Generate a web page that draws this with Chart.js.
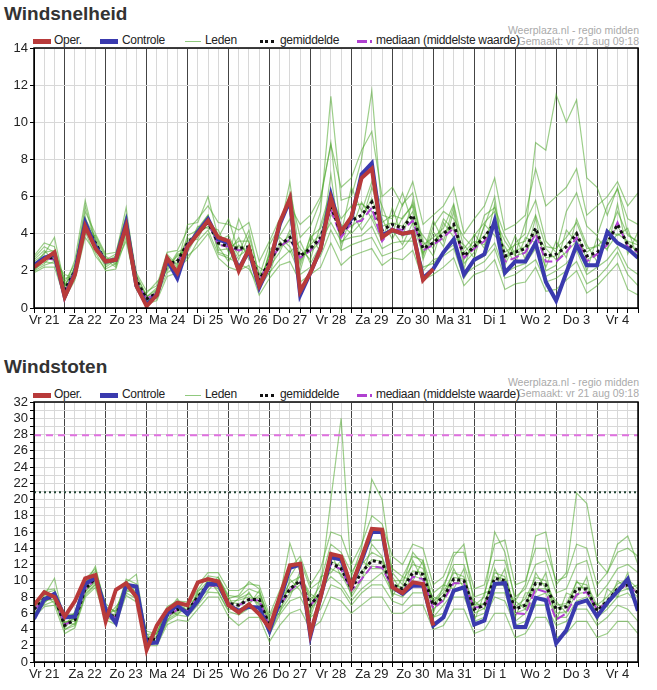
<!DOCTYPE html>
<html>
<head>
<meta charset="utf-8">
<script src="https://cdn.jsdelivr.net/npm/chart.js@4.4.1/dist/chart.umd.min.js"></script>
<style>
body { margin:0; background:#fff; font-family:"Liberation Sans", Arial, sans-serif; }
#wrap { position:relative; width:657px; height:690px; }
.title { position:absolute; left:4px; font-size:19px; font-weight:bold; color:#333; }
.credit { position:absolute; right:18px; font-size:10.5px; color:#aaa; text-align:right; line-height:11px; }
.legend { position:absolute; left:33px; font-size:12px; letter-spacing:-0.3px; color:#222; height:16px; }
.legend span { position:absolute; top:0; white-space:nowrap; }
.legend b { font-weight:normal; }
.sw { position:absolute; top:7px; }
canvas { position:absolute; left:0; }
</style>
</head>
<body>
<div id="wrap">
  <div class="title" style="top:3px">Windsnelheid</div>
  <div class="credit" style="top:25px">Weerplaza.nl - regio midden<br>Gemaakt: vr 21 aug 09:18</div>
  <div class="legend" id="legend1" style="top:33px"></div>
  <div style="position:absolute;top:36px;width:657px;height:294px"><canvas id="chart1"></canvas></div>

  <div class="title" style="top:356px">Windstoten</div>
  <div class="credit" style="top:377px">Weerplaza.nl - regio midden<br>Gemaakt: vr 21 aug 09:18</div>
  <div class="legend" id="legend2" style="top:387px"></div>
  <div style="position:absolute;top:390px;width:657px;height:294px"><canvas id="chart2"></canvas></div>
</div>
<script>
// hours since Vr 21 00:00, every 6 hours
const hours = [];
for (let h = 6; h <= 360; h += 6) hours.push(h);
const dayLabels = ['Vr 21','Za 22','Zo 23','Ma 24','Di 25','Wo 26','Do 27','Vr 28','Za 29','Zo 30','Ma 31','Di 1','Wo 2','Do 3','Vr 4'];

// ---- Windsnelheid ----
const speedOper = [2.2,2.6,3.0,0.6,1.8,4.4,3.2,2.5,2.6,4.4,1.2,0.1,0.7,2.7,1.9,3.3,4.0,4.7,3.8,3.6,2.0,3.2,1.2,2.3,4.6,5.9,0.9,1.9,3.2,5.9,4.1,4.9,7.0,7.5,3.8,4.2,4.0,4.1,1.5,2.1];
const speedControle = [2.3,2.7,2.9,0.6,1.9,4.6,3.3,2.5,2.6,4.6,1.2,0.2,0.7,2.6,1.6,3.3,4.1,4.8,3.7,3.5,2.1,3.1,1.1,2.3,4.5,5.8,0.7,1.9,3.2,6.1,4.1,4.8,7.2,7.8,3.9,4.2,4.0,4.1,1.6,2.1,3.0,3.7,1.8,2.6,2.9,4.7,1.9,2.5,2.5,3.5,1.4,0.4,1.9,3.4,2.3,2.3,4.1,3.5,3.2,2.7];
const speedMean = [2.3,2.7,2.7,1.0,2.0,4.5,3.5,2.5,2.6,4.4,1.5,0.5,0.8,2.4,2.5,3.5,4.0,4.6,3.5,3.3,3.2,3.3,1.5,2.5,3.4,3.8,2.8,3.2,3.8,5.5,4.0,4.7,5.0,5.7,4.2,4.5,4.3,5.0,3.2,3.5,4.0,4.5,2.8,3.3,3.8,4.6,2.8,3.0,3.2,4.3,2.8,2.9,3.3,4.0,2.8,3.0,3.5,4.5,3.4,3.1];
const speedMedian = [2.3,2.7,2.6,0.9,2.0,4.4,3.4,2.5,2.6,4.3,1.4,0.5,0.8,2.4,2.4,3.5,4.0,4.6,3.4,3.3,3.1,3.2,1.5,2.5,3.3,3.7,2.7,3.1,3.7,5.3,3.8,4.6,4.7,5.4,3.6,4.3,4.2,4.7,3.1,3.4,3.8,4.3,2.7,3.2,3.6,4.4,2.5,2.7,3.0,4.0,2.5,2.5,3.0,3.8,2.5,2.9,3.4,4.6,3.3,3.0];
const speedMembers = [
  [2.8,3.5,3.3,1.4,2.4,5.2,4.0,2.9,3.0,5.0,1.9,0.9,1.2,3.0,3.1,4.2,4.8,5.5,4.6,4.5,4.2,4.6,2.5,3.6,4.8,5.5,4.5,5.0,6.0,8.8,6.5,7.0,8.5,9.5,6.0,6.5,5.5,6.8,4.5,5.0,5.5,6.5,4.0,4.8,5.5,7.0,4.2,4.5,5.0,7.5,5.5,6.0,6.5,7.5,5.0,5.5,6.0,6.8,5.5,6.2],
  [1.9,2.2,2.2,0.5,1.5,3.8,3.0,2.0,2.1,3.8,1.0,0.2,0.4,1.7,1.9,2.8,3.3,4.0,2.7,2.2,2.0,2.3,0.7,1.6,2.3,2.5,1.4,1.8,2.2,3.5,2.3,2.8,3.0,3.2,2.3,2.7,2.6,3.1,1.5,1.8,2.2,2.7,1.2,1.8,2.0,2.6,1.0,1.3,1.4,2.2,0.9,1.0,1.5,2.0,0.8,1.2,1.8,2.4,1.0,0.7],
  [2.5,2.9,3.8,1.2,2.2,4.8,3.8,2.7,2.4,4.6,1.3,0.6,1.0,2.8,2.2,3.9,4.2,5.0,3.0,2.8,4.8,3.5,1.2,2.9,4.2,6.8,2.5,3.5,5.2,11.4,5.8,6.0,8.0,11.7,5.0,4.8,6.2,4.5,2.9,4.7,3.6,5.5,2.4,3.0,4.4,6.0,2.3,3.5,4.0,8.9,8.5,11.5,10.0,11.2,7.0,6.5,5.0,6.5,4.0,3.5],
  [2.1,2.4,2.9,0.8,1.9,4.2,3.3,2.3,2.7,4.1,1.6,0.3,0.7,2.2,2.8,3.2,4.4,4.3,3.9,3.6,2.6,3.9,1.8,2.2,3.0,4.2,3.2,2.6,4.5,6.3,3.5,4.2,5.7,4.8,3.6,5.4,3.8,5.8,3.6,2.8,4.6,3.8,3.4,2.7,4.5,3.9,3.3,2.4,3.8,3.5,2.2,3.6,2.7,4.8,3.4,2.5,4.2,3.9,4.3,2.6],
  [2.6,3.1,2.5,1.1,2.6,5.8,3.6,2.4,2.5,4.9,1.7,0.7,0.5,2.5,2.4,3.6,3.7,4.9,3.3,2.5,3.4,2.9,1.0,3.1,3.8,3.3,2.0,3.9,3.0,5.0,4.5,4.0,4.6,6.5,4.8,3.7,4.9,5.5,2.6,4.1,3.3,5.2,2.1,4.0,3.2,5.6,2.5,3.9,2.6,4.9,2.0,2.3,4.2,3.5,2.0,3.8,3.1,5.6,2.9,4.1],
  [2.0,2.6,2.8,1.6,1.7,4.4,3.4,2.6,2.2,4.3,1.2,0.8,1.4,2.0,2.9,3.0,4.0,4.4,4.2,3.0,3.8,2.6,2.2,1.8,3.6,3.0,3.6,2.4,3.4,7.2,3.2,5.2,4.2,5.0,3.8,4.2,3.4,4.6,3.9,3.2,4.8,4.2,3.0,3.6,3.4,4.8,3.6,2.8,3.0,4.0,3.2,2.6,3.0,3.6,3.0,3.4,3.2,4.0,3.6,3.4],
  [2.4,2.8,2.6,0.9,2.1,4.6,3.7,2.5,2.8,4.5,1.4,0.4,0.9,2.6,2.0,3.4,4.1,4.7,3.6,3.9,2.8,3.2,1.4,2.7,3.2,4.0,2.6,3.4,4.0,5.5,4.2,4.4,4.8,5.9,4.4,4.6,4.4,5.2,3.0,3.6,4.1,4.4,2.6,3.4,3.9,4.5,2.7,3.1,3.3,4.2,2.7,2.8,3.4,4.1,2.6,2.9,3.6,4.4,3.5,3.0],
  [2.3,2.5,2.4,0.7,2.3,4.9,3.2,2.2,2.6,4.2,1.5,0.5,0.6,2.3,2.6,3.7,3.9,4.6,3.4,3.4,3.3,3.1,1.6,2.4,3.3,3.6,2.9,3.0,3.6,4.6,3.6,3.8,3.9,4.4,3.2,3.5,3.6,3.6,2.2,2.4,3.0,3.4,1.8,2.2,2.5,3.2,1.6,1.8,2.2,2.6,1.4,1.6,2.0,2.5,1.3,1.6,2.2,3.0,1.8,1.2],
  [2.2,3.0,3.1,1.3,1.8,4.0,3.9,2.8,2.3,4.0,1.8,0.6,1.1,2.1,3.0,3.3,4.3,5.0,3.1,3.2,3.6,3.6,1.3,2.9,3.9,4.8,2.3,3.8,4.3,6.0,4.8,5.5,5.6,5.2,4.6,5.0,4.8,5.6,3.4,3.8,4.3,5.6,3.2,3.9,4.6,5.2,3.0,3.4,3.6,5.0,3.3,3.2,3.8,4.6,3.2,3.3,3.9,5.2,3.9,3.6],
  [2.7,3.3,3.0,1.0,2.0,5.5,3.5,2.6,2.9,5.4,1.5,0.3,1.0,2.9,2.3,4.5,4.6,6.0,3.8,4.8,3.0,4.2,1.7,3.4,4.4,6.2,3.8,4.4,5.8,8.9,4.0,6.5,5.2,6.8,5.5,4.0,5.6,6.2,2.8,4.4,5.2,4.8,3.8,3.2,5.0,5.4,3.9,2.9,4.6,5.8,3.6,3.0,5.2,6.2,4.4,3.9,5.5,6.4,4.8,4.5],
  [2.0,2.3,2.5,1.8,1.6,4.1,2.8,2.1,2.4,3.6,1.1,0.4,0.6,1.9,2.2,2.6,3.6,4.2,2.9,2.7,2.4,2.1,1.1,1.9,2.6,3.1,1.8,2.2,2.8,4.2,3.1,3.4,3.6,3.8,2.8,3.0,3.2,3.9,2.0,2.6,2.8,3.2,1.6,2.5,2.8,3.5,1.9,2.2,2.4,3.2,1.7,2.0,2.4,3.1,1.8,2.2,2.6,3.3,2.2,1.8]
];

// ---- Windstoten ----
const gustOper = [7.0,8.6,8.0,5.6,7.5,10.3,10.7,5.0,8.9,9.7,8.0,1.5,4.5,6.4,7.3,7.0,9.8,10.2,9.9,7.0,6.1,7.1,5.9,4.2,8.0,11.9,12.1,3.5,8.0,13.3,13.0,9.3,12.8,16.4,16.3,9.2,8.5,9.8,9.6,4.5];
const gustControle = [5.3,7.7,8.4,5.5,5.6,9.6,10.4,6.5,4.8,9.5,9.3,2.3,2.4,5.9,7.0,5.9,7.5,9.6,9.6,7.0,6.3,6.8,6.7,3.8,7.5,11.6,12.0,3.2,8.0,12.9,12.6,9.3,12.5,16.0,16.0,9.2,8.4,9.4,9.4,4.5,5.5,8.8,9.2,4.6,5.1,9.6,9.7,4.3,4.3,7.9,7.6,2.3,3.9,7.2,7.6,5.6,7.3,8.7,10.2,6.3];
const gustMean = [6.5,7.8,8.0,4.5,5.2,9.0,10.3,6.0,5.5,9.2,8.5,2.8,2.8,5.8,6.5,6.3,8.0,9.5,9.5,7.2,7.0,7.7,7.7,4.5,7.0,9.0,10.0,7.0,8.5,12.2,11.5,9.0,11.0,12.5,12.2,9.5,9.0,11.0,10.8,7.0,8.0,10.2,10.0,6.5,7.0,10.3,10.0,6.5,7.0,9.7,9.5,6.5,6.8,9.0,9.0,6.3,7.5,9.0,9.5,8.5];
const gustMedian = [6.4,7.7,7.9,4.6,5.2,9.0,10.2,6.0,5.5,9.1,8.4,2.8,2.9,5.7,6.4,6.3,7.9,9.4,9.4,7.2,7.0,7.6,7.6,4.4,6.9,8.8,9.8,7.0,8.4,12.0,11.4,8.8,10.2,11.8,11.6,9.2,8.6,10.5,10.2,6.6,7.6,9.7,9.7,6.7,6.8,9.6,9.6,6.0,5.9,9.0,8.6,5.2,6.0,8.3,8.6,6.5,7.3,8.8,9.6,8.3];
const gustMembers = [
  [7.2,8.8,9.0,5.3,6.0,10.2,11.5,6.8,6.2,10.2,9.6,3.4,3.5,6.8,7.5,7.4,9.5,11.0,11.0,8.8,8.8,9.6,9.4,5.8,8.8,11.5,13.0,9.5,11.5,16.0,15.5,12.0,14.5,18.0,17.0,13.0,12.0,14.5,14.0,9.5,10.5,13.5,13.5,9.0,9.5,14.5,15.0,9.5,10.0,14.0,14.0,10.0,10.5,14.5,14.0,9.5,11.0,13.5,14.0,13.0],
  [5.5,6.8,7.0,3.5,4.2,8.0,9.2,5.2,4.6,8.2,7.4,2.0,2.0,4.6,5.2,5.0,6.5,8.0,8.0,5.6,4.5,5.5,5.5,2.5,4.5,6.0,6.5,4.0,5.0,8.0,7.5,6.0,7.0,8.0,8.0,6.0,6.0,7.0,7.0,4.0,4.5,6.5,6.5,3.5,4.0,6.0,6.0,3.0,3.5,5.5,5.5,3.0,3.5,5.0,5.0,3.0,3.5,5.0,5.0,3.5],
  [6.8,8.2,10.3,4.8,5.5,9.5,11.8,6.4,5.2,9.8,10.8,3.0,3.2,6.2,7.8,6.0,8.8,9.2,10.5,7.8,8.2,9.9,9.0,4.0,8.0,14.6,11.0,7.5,9.5,20.0,30.0,10.5,14.0,22.5,20.0,11.0,9.5,13.5,12.0,7.5,9.0,13.0,14.5,7.0,8.0,16.0,13.5,7.5,9.5,15.5,16.0,9.5,11.0,20.8,19.5,12.5,11.0,14.5,15.5,12.0],
  [6.2,7.5,7.8,4.2,5.6,8.6,10.0,5.6,5.9,8.9,8.2,2.5,2.6,5.5,6.2,6.7,7.6,9.8,9.0,7.0,6.4,7.3,8.2,4.9,6.5,8.5,9.5,6.5,8.0,11.5,10.8,8.4,10.2,11.8,11.6,8.8,8.5,10.6,10.2,6.5,7.6,9.8,9.6,6.0,6.6,9.6,9.4,6.0,6.5,9.0,9.0,6.0,6.2,8.4,8.6,5.8,7.0,8.6,9.0,8.0],
  [6.6,8.0,8.3,4.0,4.8,9.3,10.6,6.2,5.7,9.0,8.8,3.2,2.4,6.0,6.8,6.0,8.4,9.2,9.8,7.5,7.6,8.0,7.2,4.2,7.5,9.8,10.5,8.0,7.6,13.0,12.5,9.5,12.0,13.5,12.8,10.0,10.0,12.0,11.5,7.4,8.6,11.0,10.5,7.0,7.2,11.0,10.5,6.8,7.8,10.4,10.0,7.0,7.2,9.8,9.5,7.0,8.0,9.6,10.2,9.0],
  [6.0,7.2,8.6,5.0,5.0,8.8,9.8,5.8,6.4,9.6,8.0,2.6,3.0,5.2,6.0,6.5,7.2,10.2,8.6,6.4,6.8,8.6,6.6,3.6,6.2,8.0,11.2,5.6,9.0,10.5,9.5,7.5,9.0,10.0,11.0,8.5,8.0,9.5,9.5,5.5,7.0,8.6,9.0,5.5,6.0,8.5,8.5,5.0,6.0,8.0,8.5,5.5,5.5,7.5,8.0,5.5,6.5,8.0,8.5,7.0],
  [6.4,7.9,7.6,4.6,5.4,9.1,10.4,6.1,5.4,9.3,8.6,2.9,2.9,5.9,6.4,6.4,8.1,9.6,9.4,7.3,7.2,7.6,7.9,4.6,7.2,9.2,9.8,7.2,8.6,12.4,11.8,9.2,11.2,12.6,12.4,9.6,9.2,11.2,11.0,7.2,8.2,10.4,10.2,6.6,7.2,10.5,10.2,6.6,7.2,9.8,9.6,6.6,7.0,9.2,9.2,6.4,7.6,9.2,9.6,8.6],
  [5.8,7.4,8.2,4.4,6.2,9.9,10.8,5.4,6.8,8.6,9.2,2.2,3.6,6.6,5.8,7.2,7.8,8.8,10.2,8.0,5.8,7.0,8.8,5.2,6.0,10.2,8.8,6.0,10.5,11.0,12.5,8.0,10.0,14.5,13.0,8.0,10.5,10.0,12.5,6.0,9.5,9.0,11.5,5.0,8.5,9.0,11.5,5.5,8.5,8.5,11.0,5.0,8.5,8.0,10.5,5.0,9.0,8.0,11.0,6.5],
  [7.0,8.4,7.2,4.9,4.6,8.4,9.6,6.6,5.0,9.5,7.8,3.5,2.2,5.0,7.2,5.6,8.6,10.0,9.2,6.8,7.8,8.4,7.0,3.8,8.4,8.6,10.6,8.4,7.5,13.5,10.5,10.0,12.5,11.5,11.5,10.5,8.5,12.5,10.0,8.0,7.5,11.5,9.0,7.5,6.5,11.5,9.0,7.5,6.5,11.0,9.0,7.5,6.0,10.0,8.5,7.0,6.8,10.0,9.0,9.5],
  [6.9,8.5,8.8,5.8,5.9,9.8,11.2,7.2,6.0,9.9,9.0,3.8,3.4,6.5,7.0,7.0,8.9,10.6,10.4,8.2,8.0,9.0,8.5,5.5,8.0,10.5,12.5,9.0,10.0,14.5,13.5,11.0,13.0,15.0,15.0,11.5,10.5,13.0,12.5,8.5,9.5,12.0,12.0,8.0,8.5,12.5,12.5,8.0,9.0,12.0,12.5,8.5,9.0,12.0,12.5,8.0,9.5,11.5,12.0,11.0],
  [6.0,7.0,7.5,4.0,4.5,8.2,9.5,5.5,5.0,8.5,7.8,2.4,2.3,5.0,5.8,5.6,7.0,8.6,8.5,6.2,5.8,6.6,6.5,3.4,5.8,7.5,8.0,5.5,6.5,9.5,9.0,7.0,8.5,9.5,9.5,7.5,7.0,8.5,8.5,5.5,6.0,8.0,8.0,5.0,5.5,8.0,7.5,4.5,5.0,7.0,7.0,4.5,5.0,6.5,6.5,4.5,5.5,7.0,6.5,5.0]
];
const gustRefMedian = 27.9;
const gustRefMean = 20.9;

function pts(values) {
    return values.map((v, i) => ({ x: hours[i], y: v }));
}

function buildDatasets(oper, controle, mean, median, members) {
    const result = [
        { label: 'Oper.', data: pts(oper), borderColor: '#b83a3a', borderWidth: 4 },
        { label: 'Controle', data: pts(controle), borderColor: '#3a3aae', borderWidth: 4 },
        { label: 'gemiddelde', data: pts(mean), borderColor: '#111', borderWidth: 3, borderDash: [3, 3] },
        { label: 'mediaan', data: pts(median), borderColor: '#b040d0', borderWidth: 2, borderDash: [9, 4] }
    ];
    for (let i = 0; i < members.length; i++) {
        result.push({ label: 'Leden', data: pts(members[i]), borderColor: 'rgba(75,165,40,0.55)', borderWidth: 1.2 });
    }
    return result;
}

// frame around plot area + horizontal reference lines
const framePlugin = {
    id: 'frame',
    afterDatasetsDraw(chart, args, opts) {
        const c = chart.ctx, a = chart.chartArea, y = chart.scales.y;
        c.save();
        (opts.refs || []).forEach(function (r) {
            c.strokeStyle = r.color; c.lineWidth = 2; c.setLineDash(r.dash);
            const py = y.getPixelForValue(r.value);
            c.beginPath(); c.moveTo(a.left, py); c.lineTo(a.right, py); c.stroke();
        });
        c.setLineDash([]);
        c.strokeStyle = '#000'; c.lineWidth = 1.5;
        c.strokeRect(a.left, a.top, a.right - a.left, a.bottom - a.top);
        c.restore();
    }
};

function makeChart(id, datasets, yMax, yStep, refs) {
    return new Chart(document.getElementById(id), {
        type: 'line',
        data: { datasets: datasets },
        plugins: [framePlugin],
        options: {
            responsive: true,
            maintainAspectRatio: false,
            animation: false,
            layout: { padding: { top: 12, right: 19, left: 0, bottom: 0 } },
            elements: { point: { radius: 0 }, line: { tension: 0 } },
            plugins: { legend: { display: false }, tooltip: { enabled: false }, frame: { refs: refs } },
            scales: {
                x: {
                    type: 'linear', min: 6, max: 360,
                    afterFit: function (s) { s.height = 22; },
                    grid: {
                        color: ctx => (ctx.tick && ctx.tick.value % 24 === 0) ? '#444' : '#d8d8d8',
                        lineWidth: 1, tickLength: 5, tickColor: '#000'
                    },
                    border: { color: '#000' },
                    ticks: {
                        stepSize: 6, autoSkip: false, maxRotation: 0, padding: 0,
                        color: '#222', font: { family: 'Liberation Sans', size: 13 },
                        callback: v => (v % 24 === 12) ? dayLabels[Math.floor(v / 24)] : ''
                    }
                },
                y: {
                    min: 0, max: yMax,
                    afterFit: function (s) { s.width = 34; },
                    grid: { color: '#d8d8d8', tickLength: 4, tickColor: '#000' },
                    border: { color: '#000' },
                    ticks: {
                        stepSize: yStep, autoSkip: false, padding: 2,
                        color: '#222', font: { family: 'Liberation Sans', size: 13 },
                        callback: v => (v % 2 === 0) ? v : ''
                    }
                }
            }
        }
    });
}

function generateLegend(containerId) {
    const el = document.getElementById(containerId);
    el.innerHTML =
        '<span style="left:0"><i class="sw" style="left:0;width:18px;height:5px;background:#b83a3a;top:6px"></i><b style="margin-left:21px">Oper.</b></span>' +
        '<span style="left:67px"><i class="sw" style="left:0;width:18px;height:5px;background:#3a3aae;top:6px"></i><b style="margin-left:22px">Controle</b></span>' +
        '<span style="left:152px"><i class="sw" style="left:0;width:16px;height:1px;background:rgba(70,165,40,0.6);top:8px"></i><b style="margin-left:20px">Leden</b></span>' +
        '<span style="left:227px"><i class="sw" style="left:0;width:14px;height:0;border-top:3px dotted #111;top:7px"></i><b style="margin-left:20px">gemiddelde</b></span>' +
        '<span style="left:324px"><i class="sw" style="left:0;width:10px;height:3px;background:#b040d0;top:7px"></i><i class="sw" style="left:13px;width:2px;height:3px;background:#b040d0;top:7px"></i><b style="margin-left:19px">mediaan (middelste waarde)</b></span>';
}

makeChart('chart1', buildDatasets(speedOper, speedControle, speedMean, speedMedian, speedMembers), 14, 2, []);
makeChart('chart2', buildDatasets(gustOper, gustControle, gustMean, gustMedian, gustMembers), 32, 1, [
    { value: gustRefMedian, color: '#e070e0', dash: [7, 5] },
    { value: gustRefMean, color: '#224433', dash: [2, 3] }
]);
generateLegend('legend1');
generateLegend('legend2');
</script>
</body>
</html>
